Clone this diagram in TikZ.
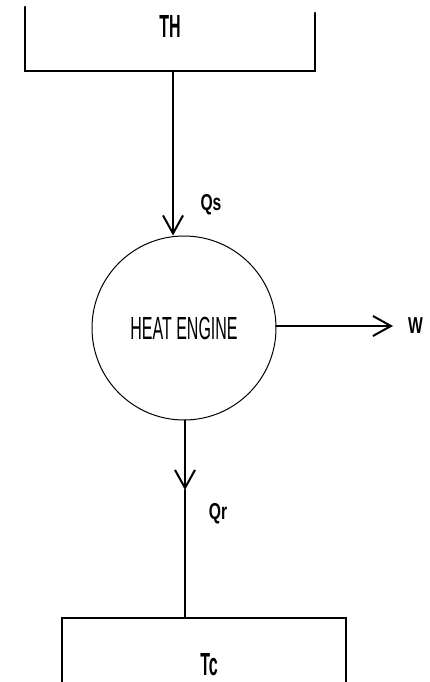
\documentclass[tikz,border=0pt]{standalone}
\usepackage{fontspec}
\setmainfont{Liberation Sans}[FakeStretch=0.5]
\newfontfamily\labelfont{Liberation Sans}[FakeStretch=0.68]
\usepackage{tikz}
\usetikzlibrary{positioning, arrows.meta}

\begin{document}
\begin{tikzpicture}[x=1pt, y=-1pt, line cap=round, line join=miter,
  wall/.style={line width=2.6pt},
  flow/.style={line width=2.4pt, -{Straight Barb[length=18pt, width=20pt, line width=2pt]}},
  big/.style={font=\bfseries\fontsize{32}{34}\selectfont, inner sep=0pt},
  small/.style={font=\labelfont\bfseries\fontsize{23}{25}\selectfont, inner sep=0pt}]
  \useasboundingbox (0,0) rectangle (430,682);
  % reservoirs
  \draw[wall] (25,7) -- (25,71) -- (315,71) -- (315,13);
  \draw[wall] (62,690) -- (62,618) -- (346,618) -- (346,690);
  \node[big] (th) at (170,26) {TH};
  \node[big] (tc) at (209,665) {Tc};
  \coordinate (hotbase) at (173,71);
  \coordinate (coldtop) at (185,618);
  % engine
  \node[circle, draw, line width=1pt, minimum size=184pt, inner sep=0pt,
        font=\fontsize{32}{34}\selectfont] (engine) at (184,328) {HEAT ENGINE};
  \coordinate (qrtip) at (185,490);
  \coordinate (wtip) at (393,326);
  \node[small, anchor=west] (w) at (408,326) {W};
  % flows
  \draw[flow] (hotbase) -- (hotbase |- engine.north);
  \draw[flow] (engine.east |- wtip) -- (wtip);
  \draw[flow] (engine.south -| qrtip) -- (qrtip);
  \draw[line width=2.4pt] (qrtip) -- (coldtop);
  \node[small] (qs) at (211,205) {Qs};
  \node[small] (qr) at (218,514) {Qr};
\end{tikzpicture}
\end{document}
